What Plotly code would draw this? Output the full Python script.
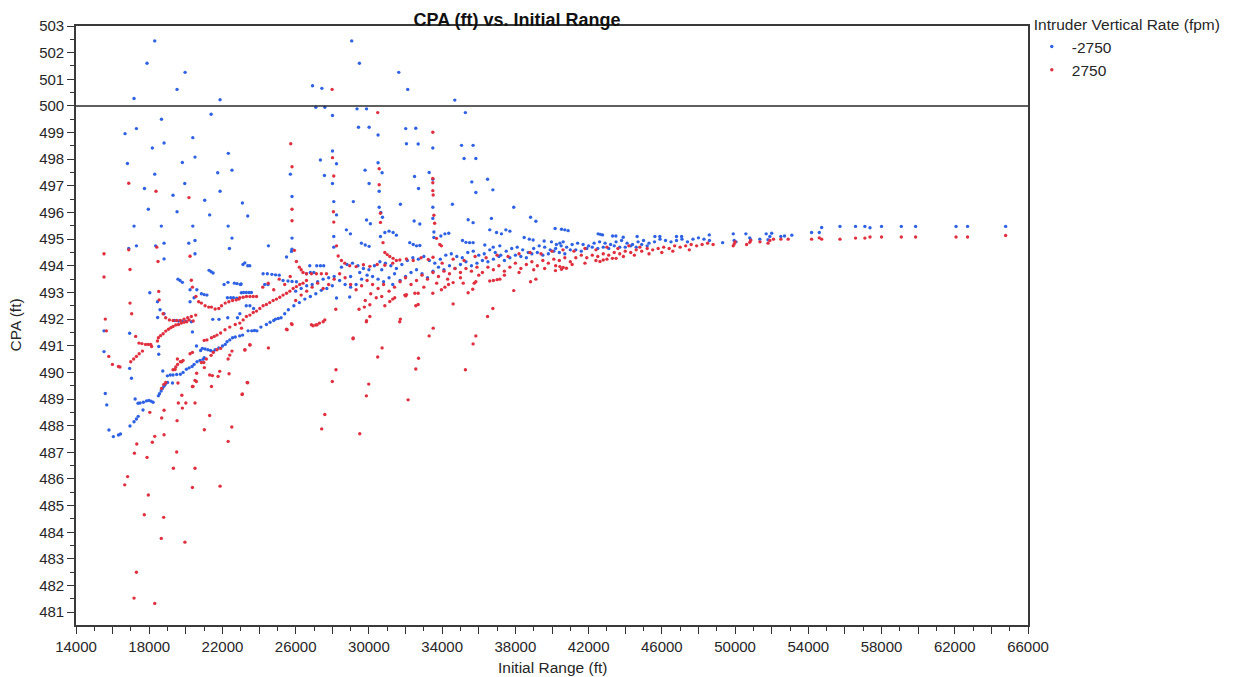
import plotly.graph_objects as go

title_text = "CPA (ft) vs. Initial Range"
x_title = "Initial Range (ft)"
y_title = "CPA (ft)"
legend_title = "Intruder Vertical Rate (fpm)"
series_names = ["-2750", "2750"]
x_tick_vals = list(range(14000, 66001, 2000))
x_tick_text = [str(v) if (v - 14000) % 4000 == 0 else "" for v in x_tick_vals]
y_tick_vals = list(range(481, 504))
threshold = 500

# ---- Intruder vertical rate -2750 (blue) : (Initial Range, CPA) ----
blue_fan = [
    (17170, 500.28), (18300, 502.44), (17880, 501.6), (19960, 501.26), (19520, 500.62), (21870, 500.23),
    (21380, 499.69), (18670, 499.5), (16680, 498.96), (17300, 499.15), (20380, 498.81), (18810, 498.61),
    (18170, 498.42), (22320, 498.22), (20500, 498.08), (19810, 497.88), (16810, 497.84), (22520, 497.59),
    (21740, 497.49), (18300, 497.44), (19940, 497.09), (17740, 496.9), (21870, 496.8), (19300, 496.65),
    (21030, 496.46), (23090, 496.36), (17950, 496.12), (19520, 496.03), (21300, 495.91), (23380, 495.87),
    (17170, 495.49), (18660, 495.49), (20380, 495.49), (22310, 495.49), (22520, 495.04), (17300, 494.75),
    (18810, 494.85), (16880, 494.65), (18350, 494.75), (20160, 494.85), (20500, 494.95), (22380, 494.65),
    (18810, 494.26), (20500, 494.45), (23220, 494.11), (24510, 494.75),
    (26920, 500.76), (27430, 500.66), (27100, 499.95), (27590, 499.95), (28010, 499.64), (29060, 502.44),
    (29480, 501.6), (31630, 501.26), (32120, 500.62), (29350, 499.89), (29870, 499.89), (29430, 499.2),
    (30010, 499.2), (30500, 498.91), (32010, 499.15), (32560, 499.16), (32050, 498.58), (32690, 498.57),
    (27350, 497.97), (28010, 498.31), (28230, 497.83), (27570, 497.39), (25710, 497.44), (28010, 497.09),
    (29790, 497.59), (30010, 497.09), (30500, 497.87), (30720, 497.49), (30560, 496.8), (25800, 496.6),
    (28080, 496.41), (29150, 496.41), (31720, 496.31), (30560, 496.2), (30650, 496.0), (30740, 495.82),
    (28230, 495.91), (29870, 495.72), (30080, 495.58), (25800, 495.04), (28080, 495.1), (28080, 494.7),
    (28770, 495.35), (28990, 495.2), (29590, 494.85), (29800, 494.78), (30010, 494.73), (30630, 495.1),
    (30870, 495.25), (31100, 495.3), (31320, 495.25), (31500, 495.15), (25500, 494.33), (25770, 494.54),
    (25800, 494.62),
    (34690, 500.22), (35270, 499.75), (35060, 498.52), (35690, 498.52), (33490, 498.42), (35200, 498.03),
    (35840, 498.03), (33290, 497.5), (32490, 497.35), (33490, 497.25), (32710, 496.9), (35620, 497.15),
    (36480, 497.25), (35840, 496.75), (36770, 496.85), (34560, 496.31), (33490, 496.2), (37910, 496.2),
    (33490, 495.78), (32470, 495.68), (32780, 495.57), (35420, 495.73), (35690, 495.62), (36690, 495.78),
    (38830, 495.82), (39120, 495.67), (33550, 495.27), (33550, 495.06), (33930, 495.12), (34150, 495.2),
    (34360, 495.22), (36600, 495.35), (36970, 495.25), (37240, 495.2), (37480, 495.35), (37700, 495.3),
    (40170, 495.4), (40520, 495.37), (40700, 495.35), (40880, 495.32), (38480, 495.06), (38760, 495.0),
    (38970, 494.97), (39570, 494.93), (39970, 494.9), (35110, 494.95), (35300, 494.88), (35500, 494.87),
    (35690, 494.87), (32230, 494.87), (32420, 494.8), (32600, 494.75), (32780, 494.76), (36330, 494.78),
    (36790, 494.7), (37150, 494.75), (40240, 494.8), (40430, 494.85), (40610, 494.9), (42520, 495.2),
    (42640, 495.18), (42760, 495.16), (43310, 495.12), (43490, 495.12), (43890, 495.07), (44650, 495.1),
    (45620, 495.1), (45890, 495.1), (46800, 495.1), (47080, 495.1), (48590, 495.16),
]

blue_curves = [
    (15530, 491.56), (15530, 490.78), (15600, 489.21), (15680, 488.78), (15800, 487.84), (16040, 487.59),
    (16320, 487.65), (16430, 487.69), (16950, 487.99), (17170, 488.15), (17300, 488.25), (17400, 488.35),
    (17660, 488.59), (17230, 489.0), (17390, 488.84), (17500, 488.85), (17680, 488.88), (17850, 488.93),
    (17980, 488.95), (18100, 488.92), (18210, 488.88), (16930, 491.47), (16930, 490.15), (17030, 489.78),
    (18520, 490.97), (18520, 490.68), (18740, 490.05),
    (18500, 489.12), (18560, 489.2), (18650, 489.3), (18720, 489.4), (18800, 489.48), (18870, 489.55),
    (19000, 489.62), (19270, 489.6), (18990, 489.87), (19150, 489.9), (19300, 489.9), (19500, 489.92),
    (19700, 489.93), (19850, 490.0), (20030, 490.12), (20180, 490.17), (20340, 490.22), (20450, 490.3),
    (20610, 490.4), (20770, 490.45), (20940, 490.49), (21000, 490.55), (20580, 490.99), (20810, 490.82),
    (20900, 490.9), (21050, 490.88), (21200, 490.85), (21350, 490.82), (21490, 490.78), (21600, 490.85),
    (21800, 490.92), (22000, 490.99), (22150, 491.05), (22250, 491.15), (22400, 491.22), (22550, 491.3),
    (22700, 491.33), (22940, 491.37), (23100, 491.4), (23400, 491.56), (23600, 491.56), (23750, 491.57),
    (23880, 491.56), (24100, 491.7), (24400, 491.8), (24600, 491.88), (24800, 491.95), (24900, 492.0),
    (25050, 492.02), (25200, 492.05), (20360, 491.52),
    (18030, 492.99), (18450, 492.65), (18590, 492.35), (18810, 492.2), (18460, 492.06), (19390, 491.95),
    (19600, 491.93), (19800, 491.92), (20000, 491.92), (20300, 491.9), (21470, 491.99), (21810, 491.99),
    (22290, 492.05), (22820, 492.05), (23030, 492.99), (22950, 492.2), (20230, 493.1), (20450, 492.8),
    (20230, 492.65), (19570, 493.5), (19680, 493.45), (19810, 493.38), (21270, 493.83), (21380, 493.78),
    (21490, 493.73), (22090, 493.3), (22300, 493.38), (22650, 493.35), (22800, 493.33), (23020, 493.32),
    (20600, 493.1), (20850, 492.95), (21000, 492.92), (21150, 492.9), (22270, 492.8), (22450, 492.8),
    (22600, 492.8), (22780, 492.78), (23120, 494.05), (23380, 494.0), (23490, 494.0),
]

blue_band = [
    (22980, 493.3), (23150, 493.0), (23300, 493.0), (23450, 493.0), (23580, 493.0), (23300, 492.5),
    (23500, 492.5), (23700, 492.4), (24220, 493.7), (24450, 493.7), (24700, 493.68), (24900, 493.66),
    (25100, 493.65), (24310, 493.3), (24490, 493.3), (25310, 493.45), (25580, 493.43), (25800, 493.41),
    (26040, 493.4), (26590, 493.7), (26800, 493.75), (26990, 493.75), (26770, 494.0), (27150, 494.0),
    (27350, 494.0), (27530, 494.0),
    (25400, 492.2), (25600, 492.35), (25900, 492.5), (26200, 492.62), (26500, 492.75), (26800, 492.85),
    (27100, 492.95), (27400, 493.08), (27700, 493.15), (28000, 493.25), (28230, 492.79), (28950, 492.83),
    (26000, 493.05), (26300, 493.15), (26600, 493.25), (26900, 493.3), (27200, 493.4), (27500, 493.5),
    (27800, 493.55), (28100, 493.6), (28400, 493.45), (28700, 493.3), (29000, 493.2), (29300, 493.3),
    (29600, 493.5), (29900, 493.65), (30200, 493.6), (30500, 493.5), (30800, 493.4), (31100, 493.55),
    (31400, 493.7),
    (28500, 493.95), (28800, 494.05), (29100, 494.1), (29400, 494.0), (29700, 493.9), (30000, 493.85),
    (30300, 494.0), (30600, 494.15), (30900, 494.1), (31200, 494.0), (31500, 493.9), (31800, 494.05),
    (32100, 494.2), (32400, 494.3), (32700, 494.25), (33000, 494.35), (33300, 494.2), (33600, 494.1),
    (33900, 494.25), (34200, 494.4), (34500, 494.45), (34800, 494.35), (35100, 494.3), (35400, 494.5),
    (35700, 494.55), (36000, 494.4), (36300, 494.45), (36600, 494.6), (36900, 494.5), (37200, 494.4),
    (37500, 494.55), (37800, 494.65), (38100, 494.7), (38400, 494.6), (38700, 494.5), (39000, 494.65),
    (39300, 494.75), (39600, 494.7), (39900, 494.6), (40200, 494.65), (40500, 494.75), (40800, 494.7),
    (41100, 494.8), (41400, 494.85), (41700, 494.8), (42000, 494.75), (42300, 494.85), (42600, 494.9),
    (42900, 494.85), (43200, 494.8), (43500, 494.9), (43800, 494.95), (44100, 494.85), (44400, 494.8),
    (44700, 494.9), (45000, 494.95), (45300, 494.85), (45600, 494.9), (45900, 495.0), (46200, 494.95),
    (46500, 494.9), (46800, 494.95), (47100, 495.0), (47400, 494.9), (47700, 495.0), (48000, 495.05),
    (48300, 495.0), (48600, 494.95),
    (29000, 493.6), (29500, 493.75), (30700, 493.85), (31300, 493.3), (31700, 493.45), (32000, 493.6),
    (32300, 493.75), (32600, 493.85), (32900, 493.7), (33200, 493.55), (33500, 493.8), (33800, 493.95),
    (34100, 493.85), (34400, 494.0), (34700, 493.9), (35000, 494.05), (35300, 494.15), (35600, 494.0),
    (35900, 494.1), (36200, 494.2), (36500, 494.15), (36800, 494.25), (37100, 494.35), (37400, 494.2),
    (37700, 494.3), (38000, 494.4), (38300, 494.35), (38600, 494.3), (38900, 494.45), (39200, 494.5),
    (39500, 494.4), (39800, 494.45), (40100, 494.55), (40400, 494.5), (40700, 494.45), (41000, 494.6),
    (41300, 494.6), (41600, 494.55), (41900, 494.65), (42200, 494.7), (42500, 494.65), (42800, 494.7),
    (43100, 494.65), (43400, 494.75), (43700, 494.7), (44000, 494.7), (44300, 494.75), (44600, 494.7),
    (44900, 494.8), (45200, 494.75),
    (49320, 494.87), (49900, 495.2), (49950, 494.95), (50050, 494.9), (50590, 495.2), (50800, 495.05),
    (50850, 494.98), (51350, 495.0), (51700, 495.2), (51900, 495.1), (52000, 495.22), (51800, 494.98),
    (52500, 495.1), (52700, 495.12), (53100, 495.15), (54180, 495.25), (54600, 495.25), (54730, 495.44),
    (55730, 495.48), (56580, 495.48), (57090, 495.48), (57370, 495.43), (58000, 495.48), (59080, 495.48),
    (59860, 495.48), (62070, 495.48), (62700, 495.48), (64780, 495.48),
]

# ---- Intruder vertical rate 2750 (red) : (Initial Range, CPA) ----
red_fan = [
    (27990, 500.62), (30480, 499.75), (33490, 499.01), (16880, 497.1), (18370, 496.8), (20170, 496.56),
    (25730, 498.58), (25800, 497.72), (28010, 498.06), (28080, 497.37), (28060, 496.03), (28080, 495.64),
    (30560, 497.64), (30560, 497.04), (30630, 495.97), (30630, 495.63), (25800, 496.12), (25800, 495.69),
    (33490, 497.28), (33490, 497.12), (33490, 496.82), (33510, 496.66), (33550, 495.9), (33590, 495.6),
    (33690, 495.03), (33870, 494.8), (33960, 494.75),
    (15530, 494.45), (16880, 494.6), (18410, 494.7), (18480, 494.16), (20230, 494.36), (16950, 493.86),
    (15530, 493.58), (20300, 493.46), (18520, 493.04), (16950, 492.6), (17040, 492.2), (18540, 492.72),
    (15600, 492.0), (15660, 491.56), (25930, 494.58), (28230, 494.75), (30770, 494.87),
    (26040, 494.16), (26200, 493.95), (26300, 493.85), (26400, 493.75), (28320, 494.37), (28500, 494.2),
    (28680, 494.1), (30870, 494.5), (31000, 494.42), (31140, 494.35), (31320, 494.28), (31500, 494.2),
]

red_curves = [
    (15790, 490.6), (15990, 490.3), (16320, 490.22), (16400, 490.2), (16990, 490.4), (17150, 490.5),
    (17300, 490.6), (17450, 490.7), (17630, 490.8), (17260, 491.35), (17440, 491.1), (17600, 491.08),
    (17800, 491.05), (17950, 491.05), (18080, 491.05), (18130, 490.97),
    (18450, 491.18), (18500, 491.3), (18620, 491.38), (18760, 491.45), (18900, 491.55), (19050, 491.62),
    (19180, 491.68), (19300, 491.72), (19450, 491.78), (19600, 491.8), (19750, 491.85), (19900, 491.88),
    (20050, 491.9), (20180, 491.97), (20400, 491.93),
    (18760, 492.2), (18900, 492.05), (19100, 491.97), (19300, 491.95), (19500, 491.95), (19700, 491.95),
    (19900, 492.0), (20100, 492.05), (20300, 492.1), (20540, 492.15),
    (20360, 493.2), (20550, 492.85), (20700, 492.65), (20850, 492.6), (21050, 492.5), (21250, 492.45),
    (21400, 492.45), (21600, 492.38), (21800, 492.4), (21950, 492.5), (22150, 492.6), (22350, 492.65),
    (22550, 492.7), (22750, 492.72), (22900, 492.75),
    (21000, 491.2), (21150, 491.22), (21400, 491.3), (21550, 491.35), (21700, 491.4), (21900, 491.48),
    (22140, 491.6), (22400, 491.7), (22700, 491.8),
    (18670, 489.4), (18800, 489.55), (18900, 489.62), (19300, 490.1), (19450, 490.2), (19550, 490.3),
    (19700, 490.4), (19540, 490.5), (19780, 490.4), (19850, 490.45), (20230, 490.7), (20360, 490.75),
    (19410, 490.11), (19570, 489.6), (20360, 489.47), (21300, 489.9), (21450, 489.88), (21760, 489.85),
    (21850, 490.04), (22360, 489.95), (20500, 489.7), (21400, 489.47), (19780, 489.14), (19590, 488.85),
    (20000, 488.85), (20500, 488.85), (19810, 488.66), (18810, 488.58), (18030, 488.5), (23070, 489.17),
    (18680, 488.29), (19520, 488.19), (21300, 488.38), (22510, 487.95), (21010, 487.85), (18810, 487.66),
    (18300, 487.6), (18170, 487.38), (22310, 487.41), (17320, 487.31), (17190, 486.97), (17880, 486.81),
    (19500, 487.01), (19320, 486.4), (20500, 486.4),
    (16660, 485.78), (16820, 486.09), (17950, 485.4), (17730, 484.66), (18790, 484.56), (18660, 483.77),
    (19950, 483.63), (17300, 482.5), (17170, 481.53), (18300, 481.33), (20360, 485.68), (21870, 485.73),
    (23380, 489.61), (23510, 491.03), (23230, 490.84), (24510, 490.92), (22310, 490.5), (22400, 490.65),
    (22520, 490.8), (20390, 489.47), (20575, 489.66), (20590, 489.97), (21010, 490.18), (20850, 490.37),
    (20980, 490.37), (21120, 490.5), (21380, 490.64), (21500, 490.75), (21700, 490.85), (21900, 490.9),
    (25530, 491.6), (25800, 491.8), (26950, 491.75), (27100, 491.78), (27300, 491.85), (27500, 491.9),
    (27420, 487.88), (27590, 488.42), (28000, 489.66), (28200, 490.1), (29130, 491.26), (29500, 487.7),
    (29860, 489.12), (29990, 489.56), (30480, 490.58), (30720, 490.92), (32140, 488.97), (32560, 490.13),
    (32710, 490.53), (31680, 491.9), (29860, 491.9), (33290, 491.37), (33510, 491.66), (35270, 490.1),
    (35690, 491.07), (35840, 491.37), (23040, 491.66), (23220, 490.85), (23490, 491.04), (23350, 489.62),
    (23090, 489.19), (25500, 491.62), (25770, 491.83), (26860, 491.79), (27170, 491.79), (27590, 491.97),
]

red_band = [
    (28190, 492.37), (29140, 491.29), (29460, 492.37), (29750, 492.45), (30050, 492.54), (29870, 491.94),
    (30050, 492.1), (30700, 492.85), (30870, 492.5), (31140, 492.66), (31300, 492.75), (31410, 492.8),
    (31720, 492.0), (32010, 492.87), (31960, 492.9), (32050, 492.92), (32510, 492.97), (32690, 492.97),
    (32560, 492.5), (32690, 492.55), (33490, 492.97), (33960, 493.1), (34150, 493.2), (34350, 493.3),
    (34600, 493.37), (34600, 492.57), (35150, 493.35), (35420, 492.99), (35670, 493.12), (35750, 493.35),
    (35840, 493.4), (36600, 493.43), (36800, 493.45), (37000, 493.48), (37150, 493.5), (36480, 492.1),
    (36770, 492.4), (37910, 493.07), (38830, 493.4), (39120, 493.5), (40190, 493.82), (40520, 493.87),
    (40430, 493.97), (40610, 493.94), (40790, 493.91), (42620, 494.16), (42800, 494.22), (43300, 494.28),
    (43500, 494.28),
    (22945, 492.8), (23130, 492.82), (23310, 492.85), (23500, 492.85), (23680, 492.85), (23860, 492.85),
    (22945, 491.85), (23130, 491.97), (23310, 492.1), (23500, 492.15), (23680, 492.25), (23860, 492.3),
    (24040, 492.4), (24220, 492.5), (24400, 492.55), (24580, 492.62), (24770, 492.7), (24950, 492.75),
    (25130, 492.82), (25310, 492.9), (25500, 492.97), (25680, 493.05), (25860, 493.15), (26040, 493.22),
    (26220, 493.3), (26400, 493.35), (26590, 493.45),
    (26590, 493.7), (26860, 493.7), (27130, 493.7), (27400, 493.7), (27680, 493.7),
    (28950, 494.0), (29300, 493.97), (29700, 494.04), (30050, 493.98), (30450, 494.05),
    (30870, 494.02), (31300, 494.1), (31690, 494.22), (32050, 494.26), (32420, 494.2),
    (32850, 494.3), (33240, 494.24), (33500, 494.32),
    (24200, 493.2), (24500, 493.35), (24800, 493.1), (25100, 493.5), (25400, 493.3), (25700, 493.6),
    (26000, 492.7), (26300, 492.9), (26600, 493.05), (26900, 493.2), (27200, 493.35), (27500, 493.15),
    (27800, 493.3), (28100, 493.5), (28400, 493.7), (28700, 493.55), (29000, 493.3), (29300, 493.1),
    (29600, 493.25), (29900, 493.45), (30200, 493.3), (30500, 493.15), (30800, 493.3), (31100, 493.05),
    (31400, 493.2), (31700, 493.4), (32000, 493.55), (32300, 493.3), (32600, 493.45), (32900, 493.65),
    (33200, 493.5), (33500, 493.75), (33800, 493.6), (34100, 493.8), (34400, 493.7), (34700, 493.9),
    (35000, 493.75), (35300, 493.9), (35600, 493.8), (35900, 493.95), (36200, 493.75), (36500, 493.95),
    (36800, 493.85), (37100, 494.0), (37400, 493.8), (37700, 493.95), (38000, 494.1), (38300, 493.9),
    (38600, 494.05), (38900, 494.15), (39200, 494.0), (39500, 494.2), (39800, 494.1), (40100, 494.25),
    (40400, 494.2), (40700, 494.3), (41000, 494.15), (41300, 494.3), (41600, 494.4), (41900, 494.3),
    (42200, 494.4), (42500, 494.35), (42800, 494.45), (43100, 494.4), (43400, 494.5), (43700, 494.45),
    (44000, 494.55), (44300, 494.5), (44600, 494.6), (44900, 494.55), (45200, 494.65), (45500, 494.6),
    (45800, 494.65), (46100, 494.7), (46400, 494.65), (46700, 494.75), (47000, 494.7), (47300, 494.75),
    (47600, 494.8), (47900, 494.75), (48200, 494.8), (48500, 494.85), (48800, 494.8),
    (29800, 492.7), (30100, 492.95), (30400, 492.8), (33000, 493.2), (33700, 493.35), (34300, 493.5),
    (35000, 493.55), (36000, 493.65), (37400, 493.65), (38200, 493.75), (39000, 493.85), (39600, 493.9),
    (40200, 494.0), (41100, 494.05), (41800, 494.1), (42400, 494.2), (43000, 494.25), (43900, 494.35),
    (44500, 494.4), (45300, 494.45), (46000, 494.5), (46600, 494.55), (47500, 494.6),
    (34000, 494.1), (34600, 494.25), (35200, 494.2), (35800, 494.35), (36400, 494.3), (37000, 494.4),
    (37600, 494.35), (38200, 494.45), (38800, 494.5), (39400, 494.45), (40000, 494.55), (40600, 494.6),
    (41200, 494.55), (41800, 494.65), (42400, 494.6), (43000, 494.7), (43600, 494.65), (44200, 494.75),
    (44800, 494.7),
    (49900, 494.75), (49950, 494.82), (50000, 494.9), (50630, 494.8), (50800, 494.88), (50850, 494.95),
    (51360, 494.9), (51800, 494.85), (51900, 494.95), (52100, 495.0), (52500, 495.0), (52900, 495.0),
    (54180, 495.0), (54600, 495.05), (54730, 495.0), (55730, 495.0), (56580, 495.04), (57090, 495.04),
    (57370, 495.08), (58000, 495.08), (59080, 495.08), (59860, 495.08), (62070, 495.08), (62700, 495.08),
    (64780, 495.14),
]

blue_pts = blue_fan + blue_curves + blue_band
red_pts = red_fan + red_curves + red_band
blue_x = [p[0] for p in blue_pts]
blue_y = [p[1] for p in blue_pts]
red_x = [p[0] for p in red_pts]
red_y = [p[1] for p in red_pts]

BLUE = "#2f62e3"
RED = "#e0303f"
FONT = "Liberation Sans, Arial, sans-serif"
TXT = "#262626"

# The page body adds an 8px offset; the figure is sized/positioned to compensate.
FIG_W, FIG_H = 1228, 669
M_L, M_R, M_T, M_B = 68, 208, 18, 52
PLOT_W = FIG_W - M_L - M_R
PLOT_H = FIG_H - M_T - M_B

fig = go.Figure()
fig.add_trace(go.Scatter(x=blue_x, y=blue_y, mode="markers", name=series_names[0],
                         marker=dict(color=BLUE, size=3.4, line=dict(width=0))))
fig.add_trace(go.Scatter(x=red_x, y=red_y, mode="markers", name=series_names[1],
                         marker=dict(color=RED, size=3.4, line=dict(width=0))))

fig.add_shape(type="line", xref="paper", x0=0, x1=1, yref="y", y0=threshold, y1=threshold,
              line=dict(color="#2a2a2a", width=1.6), layer="above")

# axis titles as annotations (exact placement)
fig.add_annotation(text=x_title, xref="paper", yref="paper", x=0.5, y=-42 / PLOT_H,
                   xanchor="center", yanchor="middle", showarrow=False,
                   font=dict(family=FONT, size=15.5, color=TXT))
fig.add_annotation(text=y_title, xref="paper", yref="paper", x=-61 / PLOT_W, y=0.5,
                   xanchor="center", yanchor="middle", textangle=-90, showarrow=False,
                   font=dict(family=FONT, size=15.5, color=TXT))

fig.update_layout(
    width=FIG_W, height=FIG_H,
    margin=dict(l=M_L, r=M_R, t=M_T, b=M_B, autoexpand=False),
    paper_bgcolor="white", plot_bgcolor="white",
    font=dict(family=FONT, size=15, color=TXT),
    title=dict(text="<b>" + title_text + "</b>", x=441 / PLOT_W, xref="paper", xanchor="center",
               y=1 - 11.5 / FIG_H, yref="container", yanchor="middle",
               font=dict(family=FONT, size=18, color="#111")),
    showlegend=True,
    legend=dict(title=dict(text=legend_title, font=dict(size=15.5, color=TXT)),
                x=1.004, xanchor="left", y=1.027, yanchor="top",
                font=dict(size=15.5, color=TXT), itemsizing="trace",
                tracegroupgap=0, bgcolor="rgba(0,0,0,0)"),
    xaxis=dict(range=[14000, 66000], tickmode="array", tickvals=x_tick_vals, ticktext=x_tick_text,
               ticks="outside", ticklen=7, tickwidth=1.3, tickcolor="#333", automargin=False,
               tickfont=dict(size=15, color=TXT),
               minor=dict(dtick=1000, tick0=14000, ticks="outside", ticklen=4, tickwidth=1, tickcolor="#333"),
               showline=True, linecolor="#3a3a3a", linewidth=1.6, mirror=True,
               showgrid=False, zeroline=False),
    yaxis=dict(range=[480.52, 503], tickmode="array", tickvals=y_tick_vals,
               ticks="outside", ticklen=7, tickwidth=1.3, tickcolor="#333", automargin=False,
               tickfont=dict(size=15, color=TXT),
               minor=dict(dtick=0.5, tick0=481, ticks="outside", ticklen=4, tickwidth=1, tickcolor="#333"),
               showline=True, linecolor="#3a3a3a", linewidth=1.6, mirror=True,
               showgrid=False, zeroline=False),
)

fig.write_html("out.html")
